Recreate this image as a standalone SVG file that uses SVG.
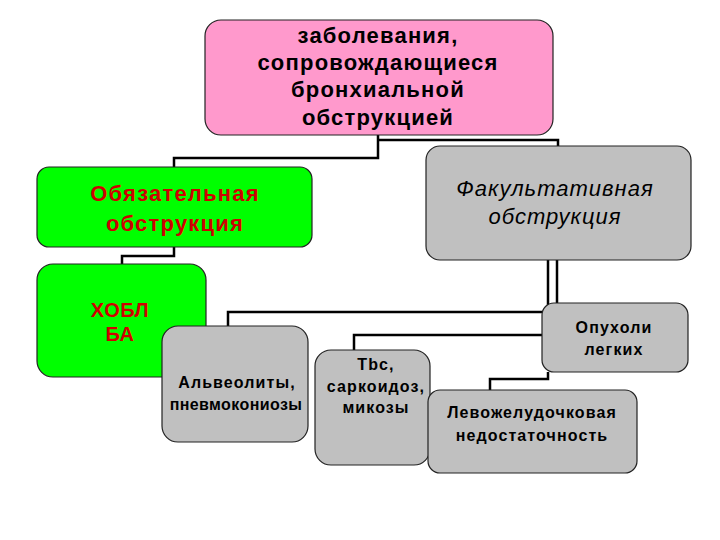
<svg xmlns="http://www.w3.org/2000/svg" width="720" height="540" viewBox="0 0 720 540">
<style>
.box{stroke:#222;stroke-width:1.2}
.pink{fill:#FF99CC}
.green{fill:#00FF00}
.gray{fill:#C0C0C0}
.t{font-family:"Liberation Sans",Arial,sans-serif;text-anchor:middle}
.b{font-weight:bold}
.red{fill:#D00000}
.blk{fill:#000}
.big{font-size:22px;letter-spacing:1.2px}
.sm{font-size:16px;letter-spacing:1.1px}
.conn{fill:none;stroke:#000;stroke-width:2.5}
</style>
<rect width="720" height="540" fill="#fff"/>
<g id="connectors">
<path class="conn" d="M378,135 V158 H174 V167"/>
<path class="conn" d="M378,140 H558 V146"/>
<path class="conn" d="M174,247 V256 H122 V264"/>
<path class="conn" d="M548,260 V312 H228 V326"/>
<path class="conn" d="M557,260 V305"/>
<path class="conn" d="M548,312 V335 H354 V350"/>
<path class="conn" d="M548,372 V379 H490 V390"/>
</g>
<g id="n_top">
<rect class="box pink" x="205" y="20" width="348" height="115" rx="16"/>
<text class="t b blk big" x="378" y="43">заболевания,</text>
<text class="t b blk big" x="378" y="70">сопровождающиеся</text>
<text class="t b blk big" x="378" y="97">бронхиальной</text>
<text class="t b blk big" x="378" y="125">обструкцией</text>
</g>
<g id="n_obyaz">
<rect class="box green" x="37" y="167" width="275" height="80" rx="12"/>
<text class="t b red big" x="175" y="201">Обязательная</text>
<text class="t b red big" x="175" y="231">обструкция</text>
</g>
<g id="n_fakult">
<rect class="box gray" x="426" y="146" width="265" height="114" rx="14"/>
<text class="t blk" font-size="22" letter-spacing="1" font-style="italic" x="555" y="196">Факультативная</text>
<text class="t blk" font-size="22" letter-spacing="1" font-style="italic" x="555" y="224">обструкция</text>
</g>
<g id="n_hobl">
<rect class="box green" x="37" y="264" width="169" height="113" rx="16"/>
<text class="t b red" font-size="20" letter-spacing="0.5" x="120" y="317">ХОБЛ</text>
<text class="t b red" font-size="20" letter-spacing="0.5" x="120" y="341">БА</text>
</g>
<g id="n_alveo">
<rect class="box gray" x="162" y="326" width="146" height="116" rx="16"/>
<text class="t b blk sm" x="237" y="388">Альвеолиты,</text>
<text class="t b blk" font-size="16" letter-spacing="0.4" x="236" y="410">пневмокониозы</text>
</g>
<g id="n_tbc">
<rect class="box gray" x="315" y="350" width="115" height="115" rx="16"/>
<text class="t b blk sm" x="376" y="370">Tbc,</text>
<text class="t b blk sm" x="376" y="392">саркоидоз,</text>
<text class="t b blk sm" x="376" y="413">микозы</text>
</g>
<g id="n_opuh">
<rect class="box gray" x="542" y="303" width="146" height="69" rx="12"/>
<text class="t b blk sm" x="614" y="333">Опухоли</text>
<text class="t b blk sm" x="614" y="355">легких</text>
</g>
<g id="n_levo">
<rect class="box gray" x="428" y="390" width="209" height="83" rx="12"/>
<text class="t b blk sm" x="532" y="418">Левожелудочковая</text>
<text class="t b blk sm" x="532" y="441">недостаточность</text>
</g>
</svg>
